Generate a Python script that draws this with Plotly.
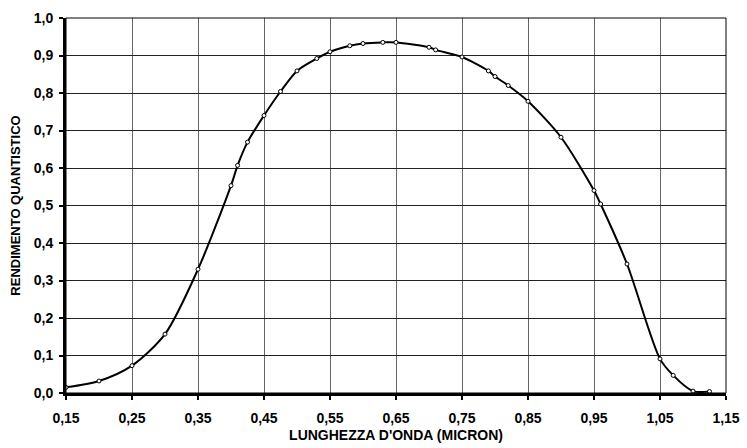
import plotly.graph_objects as go

wavelength = [0.15, 0.20, 0.25, 0.30, 0.35, 0.40, 0.41, 0.425, 0.45, 0.475, 0.50, 0.53, 0.55,
              0.58, 0.60, 0.63, 0.65, 0.70, 0.71, 0.75, 0.79, 0.80, 0.82, 0.85, 0.90, 0.95,
              0.96, 1.00, 1.05, 1.07, 1.10, 1.125]
efficiency = [0.015, 0.032, 0.073, 0.157, 0.330, 0.553, 0.607, 0.669, 0.740, 0.804, 0.859, 0.892,
              0.910, 0.926, 0.932, 0.935, 0.935, 0.922, 0.915, 0.896, 0.859, 0.844, 0.820, 0.778,
              0.682, 0.540, 0.504, 0.344, 0.091, 0.047, 0.005, 0.004]

x_ticks = [0.15, 0.25, 0.35, 0.45, 0.55, 0.65, 0.75, 0.85, 0.95, 1.05, 1.15]
x_labels = ["0,15", "0,25", "0,35", "0,45", "0,55", "0,65", "0,75", "0,85", "0,95", "1,05", "1,15"]
y_ticks = [0.0, 0.1, 0.2, 0.3, 0.4, 0.5, 0.6, 0.7, 0.8, 0.9, 1.0]
y_labels = ["0,0", "0,1", "0,2", "0,3", "0,4", "0,5", "0,6", "0,7", "0,8", "0,9", "1,0"]

FONT = "Arial, Liberation Sans, sans-serif"

fig = go.Figure()
fig.add_trace(go.Scatter(
    x=wavelength, y=efficiency, mode="lines+markers",
    line=dict(color="black", width=2, shape="spline", smoothing=0.8),
    marker=dict(symbol="circle", size=4, color="white", line=dict(color="black", width=1)),
    showlegend=False, hoverinfo="skip",
))

fig.update_layout(
    width=747, height=448,
    margin=dict(l=66, r=21, t=18, b=55),
    paper_bgcolor="white", plot_bgcolor="white",
    font=dict(family=FONT, color="black"),
    xaxis=dict(
        range=[0.15, 1.15], tickvals=x_ticks, ticktext=["<b>%s</b>" % t for t in x_labels],
        showgrid=True, gridcolor="#666666", gridwidth=1,
        showline=True, linecolor="black", linewidth=3,
        ticks="outside", ticklen=4, tickwidth=2, tickcolor="black",
        tickfont=dict(size=14, family=FONT),
        ticklabelstandoff=6, automargin=False,
        title=dict(text="<b>LUNGHEZZA D'ONDA (MICRON)</b>", font=dict(size=14, family=FONT), standoff=6),
        zeroline=False,
    ),
    yaxis=dict(
        range=[0, 1.0], tickvals=y_ticks, ticktext=["<b>%s</b>" % t for t in y_labels],
        showgrid=True, gridcolor="#222222", gridwidth=1,
        showline=True, linecolor="black", linewidth=3,
        ticks="outside", ticklen=4, tickwidth=2, tickcolor="black",
        tickfont=dict(size=14, family=FONT),
        ticklabelstandoff=3, automargin=False,
        title=dict(text="<b>RENDIMENTO QUANTISTICO</b>", font=dict(size=13, family=FONT), standoff=11),
        zeroline=False,
    ),
    shapes=[dict(type="rect", xref="paper", yref="paper", x0=0, y0=0, x1=1, y1=1,
                 line=dict(color="black", width=1), fillcolor="rgba(0,0,0,0)", layer="above")],
)

fig.write_html("out.html")
